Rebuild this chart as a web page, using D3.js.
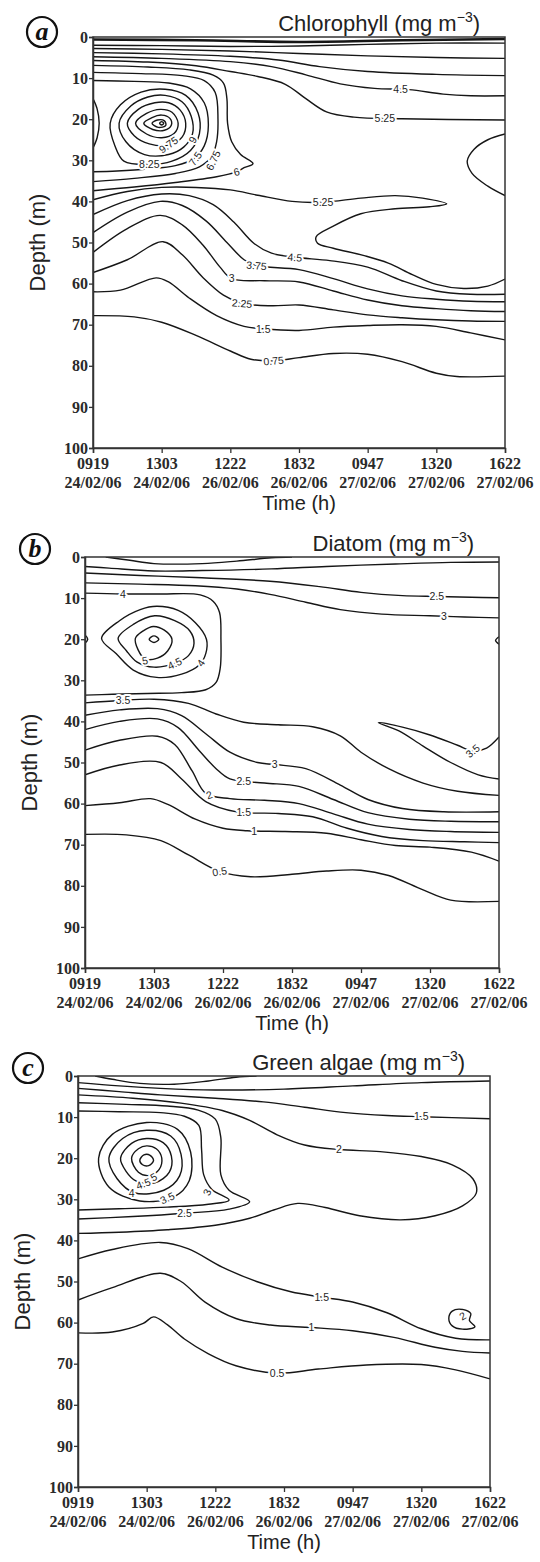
<!DOCTYPE html>
<html>
<head>
<meta charset="utf-8">
<script src="https://cdn.jsdelivr.net/npm/d3@7"></script>
<style>
  body { margin: 0; background: #fff; }
  svg { display: block; }
</style>
</head>
<body>
<svg id="chart" width="540" height="1562"></svg>
<script>
// x positions are sampling indexes (0 = first sampling, 6 = last), y is depth in m
const timeLabels = ["0919", "1303", "1222", "1832", "0947", "1320", "1622"];
const dateLabels = ["24/02/06", "24/02/06", "26/02/06", "26/02/06", "27/02/06", "27/02/06", "27/02/06"];
const depthTicks = [0, 10, 20, 30, 40, 50, 60, 70, 80, 90, 100];

// ---- (a) chlorophyll ----
const chlLines = [
  [[0,0.6],[1.5,0.8],[3,1.2],[4.5,0.8],[6,0.5]],
  [[0,2.0],[1,2.1],[2,2.3],[3,2.2],[4,1.8],[5,1.5],[6,1.5]],
  [[0,2.8],[1,3.0],[2,3.4],[3,4.0],[4,4.6],[5,5.0],[6,5.2]],
  [[0,3.8],[1,4.1],[2,4.7],[2.7,5.6],[3.3,7.2],[4,8.4],[5,9.1],[6,9.4]],
  [[0,4.8],[1,5.2],[2,6.0],[2.6,7.2],[3.1,9.2],[3.6,11.4],[4.1,12.5],[4.6,12.8],[5.1,13.9],[5.5,14.3],[6,14.3]],
  [[0,5.7],[0.8,6.1],[1.5,7.0],[2.0,8.4],[2.4,9.6],[2.8,11.5],[3.1,15],[3.4,18.2],[3.8,19.5],[4.5,19.9],[6,20.2]],
  [[0,6.9],[0.8,7.3],[1.4,8.0],[1.75,9.3],[1.9,11.2],[1.95,15],[1.96,21],[2.02,25.5],[2.15,28.6],[2.33,30.8],[2.2,31.8],[2.09,32.8],[1.8,34.0],[1.2,35.4],[0.6,36.5],[0,37.4]],
  [[0,8.6],[0.7,8.9],[1.3,9.4],[1.62,10.6],[1.78,13.5],[1.82,20],[1.8,25.5],[1.73,29],[1.55,31.6],[1.2,33.2],[0.6,34.4],[0,35.2]],
  [[0,10.6],[0.6,10.8],[1.1,11.2],[1.42,12.6],[1.62,16],[1.68,21.5],[1.62,26.5],[1.47,29.6],[1.2,31.3],[0.8,32.1],[0.35,32.6],[0,32.8]],
  [[0,15],[0.06,17.5],[0.09,21],[0.06,24.5],[0,27]],
  [[6,23.6],[5.75,25],[5.55,27.3],[5.45,30.2],[5.52,33.2],[5.75,36.3],[6,38.6]],
  [[0,39.6],[0.5,37.6],[1.0,36.6],[1.5,36.6],[2.0,37.2],[2.4,38.5],[2.9,40],[3.35,40.2],[3.9,39.2],[4.4,38.6],[4.8,39.2],[5.15,40.6],[4.9,41.3],[4.4,41.8],[3.9,43],[3.5,46],[3.25,48.6],[3.27,50.2],[3.5,51.4],[3.95,53.2],[4.3,55],[4.65,57.8],[5.0,60.2],[5.4,61.2],[5.75,60.6],[6,58.9]],
  [[0,43.2],[0.5,39.8],[1.0,38.2],[1.4,38.6],[1.75,40.8],[2.05,45],[2.35,50.3],[2.6,52.6],[2.94,53.6],[3.45,54.4],[4.0,56],[4.5,59.3],[5.0,61.8],[5.5,62.6],[6,62.6]],
  [[0,47.6],[0.5,42.6],[0.98,40],[1.3,41],[1.65,44.8],[1.95,50],[2.2,54.2],[2.38,55.6],[3.0,56.6],[3.5,58.8],[4.0,61.3],[4.5,63],[5.0,63.8],[5.5,64.3],[6,64.4]],
  [[0,52.4],[0.5,46.6],[0.98,43.4],[1.3,45.7],[1.6,50.6],[1.85,56],[2.02,58.8],[2.5,59.3],[3.0,59.6],[3.5,61.8],[4.0,64],[4.5,65.4],[5.0,66.1],[5.5,66.6],[6,66.8]],
  [[0,57.3],[0.5,54.2],[1.02,49.8],[1.3,53],[1.6,58.5],[1.9,62.8],[2.17,64.8],[2.6,65.4],[3.0,65.2],[3.5,66.4],[4.0,67.6],[4.5,68.3],[5.0,68.8],[5.5,69.1],[6,69.2]],
  [[0,62],[0.4,61.6],[0.92,58.6],[1.1,59.6],[1.4,63.5],[1.8,67.8],[2.2,70.4],[2.48,71],[3.0,71.4],[3.5,70.6],[4.0,70.2],[4.5,70],[5.0,70.4],[5.5,72],[6,73.7]],
  [[0,67.8],[0.6,68.1],[1.0,69.4],[1.5,72.6],[2.0,76.4],[2.3,78.4],[2.63,78.8],[3.0,78],[3.5,77],[4.0,77.2],[4.5,79],[5.0,81.8],[5.3,82.6],[6,82.5]]
];
const chlRings = [
  [[0.25,21],[0.4,16.5],[0.7,13.4],[1.05,12.7],[1.35,14.2],[1.53,18.5],[1.55,23.5],[1.42,27.6],[1.15,30.2],[0.82,31.0],[0.45,30.2],[0.32,26.5]],
  [[0.38,21],[0.55,16.8],[0.8,14.6],[1.05,14.2],[1.3,15.8],[1.43,19.3],[1.45,23.5],[1.32,26.8],[1.1,28.6],[0.75,28.6],[0.48,25.5]],
  [[0.5,21],[0.66,17.6],[0.9,16],[1.1,16],[1.27,17.8],[1.35,21],[1.3,24.3],[1.1,26.3],[0.82,26],[0.6,24]],
  [[0.62,21],[0.78,18.6],[0.98,17.6],[1.15,18.3],[1.24,21],[1.18,23.5],[1.0,24.5],[0.78,23.6]],
  [[0.74,21],[0.86,19.6],[1.0,19],[1.12,19.8],[1.14,21.5],[1.04,22.7],[0.87,22.5]],
  [[0.86,21],[0.94,20.2],[1.04,20.4],[1.06,21.5],[0.95,22]],
  [[0.97,21],[1.0,20.6],[1.03,21],[1.0,21.4]]
];
const chlLabels = [
  ["4.5",4.48,12.7,0],["5.25",4.25,19.8,0],["9.75",1.1,26.2,-35],["9",1.45,25,-60],
  ["8.25",0.82,31,0],["7.5",1.49,29.6,-55],["6.75",1.75,30,-65],["6",2.09,32.8,-15],
  ["5.25",3.35,40.2,0],["4.5",2.94,53.6,5],["3.75",2.38,55.6,5],["3",2.02,58.8,0],
  ["2.25",2.17,64.8,5],["1.5",2.48,71,0],["0.75",2.63,78.8,-5]
];

// ---- (b) diatom ----
const diaLines = [
  [[0.3,0],[0.65,0.8],[1.0,1.6],[1.7,1.6],[2.2,1.0],[2.7,0.2],[3.0,0]],
  [[0,2.3],[0.35,2.7],[1.0,3.4],[1.7,3.3],[2.7,2.9],[3.5,2.3],[4.5,1.7],[5.3,1.3],[6,1.2]],
  [[0,3.9],[0.8,4.5],[1.6,5.0],[2.68,5.9],[3.4,7.2],[4.0,8.6],[4.6,9.4],[5.1,9.6],[5.6,9.8],[6,9.9]],
  [[0,6.3],[0.8,6.6],[1.6,7.0],[2.2,7.8],[2.68,9.1],[3.2,11],[3.7,12.8],[4.3,13.9],[5.0,14.3],[5.5,14.6],[6,14.8]],
  [[0,8.8],[0.55,9.0],[1.1,9.0],[1.67,9.2],[1.86,10.8],[1.95,13.5],[1.97,20],[1.96,27],[1.9,30.5],[1.75,32.3],[1.4,33],[0.9,33.2],[0.4,33.4],[0,33.6]],
  [[0,19],[0.04,20],[0,21]],
  [[6,19.4],[5.95,20.3],[6,21.2]],
  [[0,35.5],[0.5,34.9],[1.0,34.6],[1.5,35.6],[1.9,38.2],[2.3,40.2],[2.8,40.8],[3.3,41.3],[3.7,43.5],[4.0,47.5],[4.4,51.5],[4.9,55],[5.4,57],[6,58]],
  [[6,43.8],[5.82,46.5],[5.62,47.2],[5.4,45.8],[5.0,43.3],[4.6,41.4],[4.25,40.3],[4.55,42.3],[4.9,46],[5.3,50],[5.7,53],[6,54]],
  [[0,38.5],[0.5,37.2],[1.05,36.9],[1.4,38.6],[1.75,43],[2.1,47.5],[2.5,50],[2.75,50.5],[3.2,51.5],[3.7,55.5],[4.1,59],[4.6,61.2],[5.2,62],[6,62]],
  [[0,42],[0.5,40],[1.05,39.4],[1.35,41.5],[1.65,47],[1.9,51.5],[2.1,54],[2.6,55],[3.1,55.8],[3.6,59],[4.1,62.2],[4.7,63.8],[5.3,64.3],[6,64.4]],
  [[0,47],[0.5,44.6],[1.05,43.6],[1.3,45.6],[1.55,52],[1.75,57.5],[2.1,58.8],[2.6,59.2],[3.1,60],[3.6,62.5],[4.1,65],[4.7,66.3],[5.3,66.8],[6,67]],
  [[0,53],[0.5,50.6],[1.1,50],[1.4,54],[1.75,59.5],[2.2,62],[2.8,62.4],[3.3,63.2],[3.8,66],[4.3,68],[4.9,69],[5.5,69.3],[6,69.5]],
  [[0,60.5],[0.5,59.8],[0.95,58.8],[1.2,60.2],[1.6,63.8],[2.0,66],[2.35,66.6],[2.9,66.8],[3.5,67.2],[4.0,68.8],[4.5,70.2],[5.0,70.6],[5.6,71.8],[6,74]],
  [[0,67.5],[0.6,67.6],[1.1,69],[1.5,72.5],[1.95,76.5],[2.4,77.8],[3.0,77.2],[3.5,76.4],[4.0,76.2],[4.4,77.5],[4.9,81],[5.3,83.5],[6,83.8]]
];
const diaRings = [
  [[0.24,19.8],[0.5,15.5],[0.8,12.8],[1.04,12.0],[1.35,13],[1.6,16],[1.76,20],[1.75,23.5],[1.66,26.2],[1.4,28.5],[1.04,29.3],[0.7,27.5],[0.45,23.5]],
  [[0.48,19.8],[0.7,16.4],[1.01,14.3],[1.3,15.5],[1.52,18],[1.58,21],[1.5,24],[1.3,25.9],[1.0,26.8],[0.75,25.5],[0.6,22.8]],
  [[0.73,19.8],[0.85,17.9],[0.99,16.9],[1.15,17.8],[1.26,20],[1.2,22.8],[1.05,24.6],[0.87,24.8],[0.77,22.6]],
  [[0.93,20],[1.0,19.2],[1.07,20],[1.0,20.8]]
];
const diaLabels = [
  ["4",0.55,9.0,0],["2.5",5.1,9.6,0],["3",5.2,14.4,0],
  ["5",0.87,25.2,-10],["4.5",1.3,25.9,-25],["4",1.68,25.8,-55],
  ["3.5",0.55,34.9,0],["3.5",5.62,47.2,-40],["3",2.75,50.5,0],["2.5",2.3,54.5,0],
  ["2",1.8,57.9,-20],["1.5",2.3,62.1,0],["1",2.45,66.7,0],["0.5",1.95,76.5,-10]
];

// ---- (c) green algae ----
const grnLines = [
  [[0.25,0],[0.5,0.8],[0.9,1.8],[1.4,2.0],[1.9,1.2],[2.3,0.3],[2.6,0]],
  [[0,1.6],[0.6,2.4],[1.2,3.0],[2.0,3.4],[3.0,3.2],[4.0,2.4],[5.0,1.6],[6,1.2]],
  [[0,3.0],[0.6,3.8],[1.2,4.6],[2.0,5.4],[2.7,6.3],[3.3,7.6],[3.9,8.9],[4.5,9.6],[5.0,9.9],[6,10.4]],
  [[0,4.6],[0.8,5.4],[1.5,6.6],[2.1,8.4],[2.5,10.8],[2.9,14.3],[3.3,16.8],[3.8,17.9],[4.4,18.4],[5.0,19.6],[5.45,21.6],[5.75,25],[5.8,28.5],[5.6,31.6],[5.2,34],[4.7,35],[4.1,34],[3.6,32],[3.2,31],[2.85,32.6],[2.5,34.6],[2.0,36.3],[1.3,37.4],[0.6,38],[0,38.3]],
  [[0,6.5],[0.7,6.9],[1.3,7.3],[1.75,8.3],[2.0,10.5],[2.08,15],[2.08,24],[2.2,27.8],[2.5,30.6],[2.2,32.4],[1.55,33.4],[0.8,34.2],[0,34.8]],
  [[0,8.5],[0.6,8.7],[1.2,8.9],[1.55,9.8],[1.76,12],[1.8,18],[1.83,24],[1.95,27.6],[2.2,30.2],[1.9,31.2],[1.3,31.9],[0.6,32.3],[0,32.6]],
  [[0,44.5],[0.5,42.2],[1.2,40.5],[1.6,42],[2.1,46.5],[2.6,50],[3.1,52.5],[3.55,53.8],[4.0,55],[4.5,57.6],[5.0,61.5],[5.5,63.8],[6,64.2]],
  [[0,54.5],[0.5,51.5],[1.2,48],[1.5,50],[1.85,55],[2.3,59],[2.8,60.6],[3.4,61.2],[4.0,62],[4.6,63.6],[5.2,66],[5.6,67],[6,67.4]],
  [[0,62.5],[0.5,62.3],[0.95,60.2],[1.1,58.6],[1.3,60.5],[1.55,64],[1.9,67.6],[2.3,70.5],[2.9,72.3],[3.5,71.3],[4.2,70.3],[5.0,70.2],[5.5,71.5],[6,73.7]]
];
const grnRings = [
  [[0.3,20],[0.5,14.2],[1.0,11.3],[1.45,13],[1.64,18.5],[1.62,25.5],[1.4,29.4],[0.9,30.4],[0.45,27]],
  [[0.45,20],[0.65,15.2],[1.0,13.2],[1.35,14.6],[1.5,19],[1.48,24.3],[1.25,27.8],[0.82,28.4],[0.57,25]],
  [[0.62,20],[0.78,16.4],[1.0,15.2],[1.24,16.2],[1.36,19.5],[1.33,23.4],[1.12,26],[0.85,25.6],[0.7,23.2]],
  [[0.78,20],[0.88,17.7],[1.0,17],[1.14,17.7],[1.22,20],[1.18,22.8],[1.04,24.2],[0.88,23.4]],
  [[0.9,20.5],[0.96,19.2],[1.05,19.3],[1.1,20.6],[1.03,21.8],[0.94,21.6]],
  [[5.45,57.2],[5.6,56.8],[5.72,57.8],[5.7,59.5],[5.78,61],[5.6,61.6],[5.45,60.8],[5.4,59]]
];
const grnLabels = [
  ["1.5",5.0,9.9,0],["2",3.8,17.9,0],
  ["5",1.1,24.6,-30],["4.5",0.95,26.2,-20],["4",0.78,28.4,0],["3.5",1.3,29.7,-25],
  ["3",1.88,28.3,-65],["2.5",1.55,33.4,0],
  ["1.5",3.55,53.8,0],["1",3.4,61.2,0],["0.5",2.9,72.3,0],["2",5.6,58.4,-30]
];

const panels = [
  { key: "a", title: "Chlorophyll", x0: 93, x1: 505, y0: 37, y1: 448, cx: 42, cy: 32,
    lines: chlLines, rings: chlRings, labels: chlLabels },
  { key: "b", title: "Diatom", x0: 85, x1: 499, y0: 557, y1: 968, cx: 35, cy: 549,
    lines: diaLines, rings: diaRings, labels: diaLabels },
  { key: "c", title: "Green algae", x0: 78, x1: 490, y0: 1076, y1: 1487, cx: 28, cy: 1068,
    lines: grnLines, rings: grnRings, labels: grnLabels }
];

const svg = d3.select("#chart");
const defs = svg.append("defs");
const ink = "#161616";
const serif = "'Liberation Serif', 'Times New Roman', serif";
const sans = "'Liberation Sans', Arial, sans-serif";

function drawPanel(p) {
  const x = d3.scaleLinear().domain([0, 6]).range([p.x0, p.x1]);
  const y = d3.scaleLinear().domain([0, 100]).range([p.y0, p.y1]);
  const g = svg.append("g").attr("class", "panel-" + p.key);

  defs.append("clipPath").attr("id", "clip-" + p.key)
    .append("rect")
    .attr("x", p.x0).attr("y", p.y0)
    .attr("width", p.x1 - p.x0).attr("height", p.y1 - p.y0);

  const open = d3.line().x(d => x(d[0])).y(d => y(d[1])).curve(d3.curveCatmullRom.alpha(0.5));
  const closed = d3.line().x(d => x(d[0])).y(d => y(d[1])).curve(d3.curveCatmullRomClosed.alpha(0.5));

  const plot = g.append("g").attr("clip-path", `url(#clip-${p.key})`);

  plot.selectAll("path.iso").data(p.lines).join("path")
    .attr("class", "iso")
    .attr("d", open)
    .attr("fill", "none")
    .attr("stroke", ink)
    .attr("stroke-width", (d, i) => (p.key === "a" && i === 0) ? 2.6 : 1.4);

  plot.selectAll("path.ring").data(p.rings).join("path")
    .attr("class", "ring")
    .attr("d", closed)
    .attr("fill", "none")
    .attr("stroke", ink)
    .attr("stroke-width", 1.4);

  // contour values: a white halo first so the line looks cut, then the text
  const placeLabel = sel => sel
    .attr("transform", d => `translate(${x(d[1])},${y(d[2])}) rotate(${d[3]})`)
    .attr("dy", "0.36em")
    .attr("text-anchor", "middle")
    .attr("font-family", sans)
    .attr("font-size", 10.5)
    .text(d => d[0]);

  plot.selectAll("text.halo").data(p.labels).join("text")
    .attr("class", "halo")
    .call(placeLabel)
    .attr("fill", "#fff")
    .attr("stroke", "#fff")
    .attr("stroke-width", 4)
    .attr("stroke-linejoin", "round");

  plot.selectAll("text.lbl").data(p.labels).join("text")
    .attr("class", "lbl")
    .call(placeLabel)
    .attr("fill", "#1e1e1e");

  // frame
  g.append("rect")
    .attr("x", p.x0).attr("y", p.y0)
    .attr("width", p.x1 - p.x0).attr("height", p.y1 - p.y0)
    .attr("fill", "none").attr("stroke", "#333").attr("stroke-width", 1.5);

  // y axis
  const yAxis = d3.axisLeft(y).tickValues(depthTicks).tickSize(4).tickPadding(1);
  const ya = g.append("g").attr("transform", `translate(${p.x0},0)`).call(yAxis);
  ya.select(".domain").attr("stroke", "#333").attr("stroke-width", 1.5);
  ya.selectAll(".tick line").attr("stroke", "#333").attr("stroke-width", 1.3);
  ya.selectAll(".tick text")
    .attr("font-family", serif).attr("font-weight", "bold")
    .attr("font-size", 16).attr("fill", "#2a2a2a");

  // x axis, two-line labels
  const xAxis = d3.axisBottom(x).tickValues(timeLabels.map((_, i) => i)).tickSize(5).tickFormat("");
  const xa = g.append("g").attr("transform", `translate(0,${p.y1})`).call(xAxis);
  xa.select(".domain").attr("stroke", "#333").attr("stroke-width", 1.5);
  xa.selectAll(".tick line").attr("stroke", "#333").attr("stroke-width", 1.3);

  const xl = g.append("g")
    .attr("font-family", serif).attr("font-weight", "bold")
    .attr("font-size", 16).attr("fill", "#2a2a2a")
    .attr("text-anchor", "middle");
  xl.selectAll("text.t").data(timeLabels).join("text")
    .attr("class", "t")
    .attr("x", (d, i) => x(i)).attr("y", p.y1 + 21)
    .text(d => d);
  xl.selectAll("text.dt").data(dateLabels).join("text")
    .attr("class", "dt")
    .attr("x", (d, i) => x(i)).attr("y", p.y1 + 40)
    .text(d => d);

  // axis titles
  g.append("text")
    .attr("x", (p.x0 + p.x1) / 2).attr("y", p.y1 + 62)
    .attr("text-anchor", "middle")
    .attr("font-family", sans).attr("font-size", 20).attr("fill", "#222")
    .text("Time (h)");

  g.append("text")
    .attr("transform", `translate(${p.x0 - 56},${(p.y0 + p.y1) / 2}) rotate(-90)`)
    .attr("text-anchor", "middle")
    .attr("dy", "0.35em")
    .attr("font-family", sans).attr("font-size", 22).attr("fill", "#222")
    .text("Depth (m)");

  // panel title with superscript
  const t = g.append("text")
    .attr("x", p.x1 - 25).attr("y", p.y0 - 6)
    .attr("text-anchor", "end")
    .attr("font-family", sans).attr("font-size", 22).attr("fill", "#222");
  t.append("tspan").text(p.title + " (mg m");
  t.append("tspan").attr("font-size", 14).attr("dy", -9).text("\u22123");
  t.append("tspan").attr("dy", 9).text(")");

  // circled panel letter
  g.append("circle")
    .attr("cx", p.cx).attr("cy", p.cy).attr("r", 15)
    .attr("fill", "#fff").attr("stroke", "#111").attr("stroke-width", 2.2);
  g.append("text")
    .attr("x", p.cx).attr("y", p.cy)
    .attr("dy", "0.3em")
    .attr("text-anchor", "middle")
    .attr("font-family", serif).attr("font-style", "italic").attr("font-weight", "bold")
    .attr("font-size", 26).attr("fill", "#111")
    .text(p.key);
}

panels.forEach(drawPanel);
</script>
</body>
</html>
